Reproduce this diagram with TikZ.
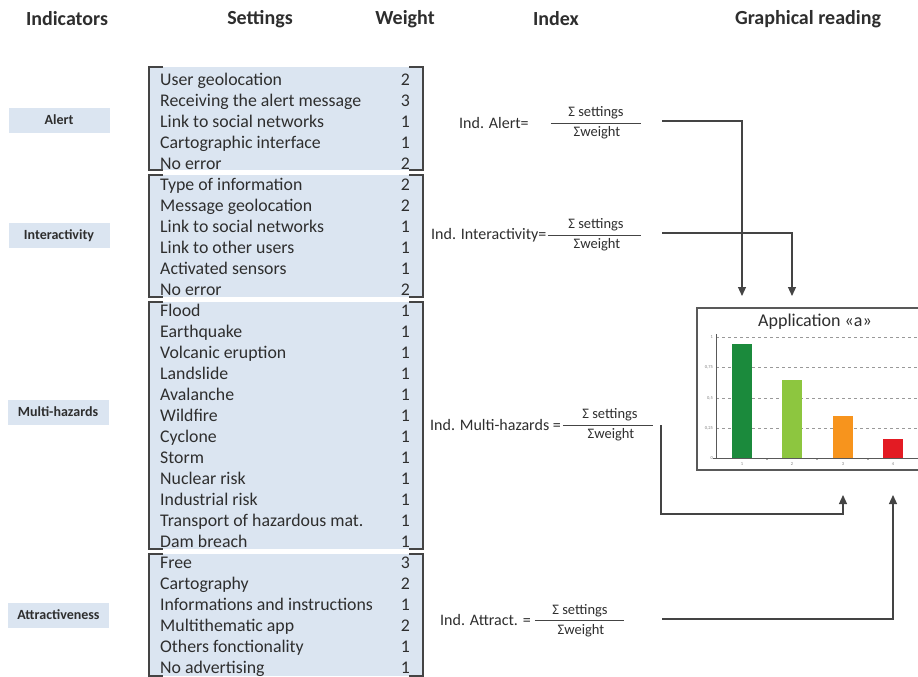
\documentclass[tikz,border=0pt]{standalone}
\usepackage{fontspec}
\setmainfont{Carlito}
\usetikzlibrary{arrows.meta}
\definecolor{boxblue}{HTML}{DBE5F1}
\definecolor{txt}{HTML}{2E2E2E}
\definecolor{lnc}{HTML}{444444}
\definecolor{barA}{HTML}{1B8A3C}
\definecolor{barB}{HTML}{8DC63F}
\definecolor{barC}{HTML}{F7941D}
\definecolor{barD}{HTML}{E31B23}
\tikzset{
  hdr/.style={font=\fontsize{20}{22}\selectfont\bfseries, text=txt, inner sep=0},
  indbox/.style={fill=boxblue, minimum width=101pt, minimum height=25pt, inner sep=0,
    font=\fontsize{14}{16}\selectfont\bfseries, text=txt},
  setting/.style={anchor=base west, inner sep=0, font=\fontsize{17.8}{19}\selectfont, text=txt},
  weight/.style={anchor=base east, inner sep=0, font=\fontsize{17.8}{19}\selectfont, text=txt},
  idx/.style={inner sep=0, font=\fontsize{16}{18}\selectfont, text=txt},
  fr/.style={inner sep=0, font=\fontsize{14.5}{16}\selectfont, text=txt},
  fracbar/.style={inner sep=0, minimum height=0pt},
  bracket/.style={draw=lnc, line width=1.4pt},
  conn/.style={draw=lnc, line width=1.2pt},
  arr/.style={conn, -{Triangle[width=8pt,length=9pt]}},
  grid/.style={draw=gray!80, line width=1pt, dash pattern=on 3pt off 3pt},
  tick/.style={inner sep=0, font=\fontsize{4.5}{5}\selectfont, text=gray},
}
\begin{document}
\begin{tikzpicture}[x=1pt,y=-1pt]
\useasboundingbox[fill=white] (0,0) rectangle (918,677);

% headers
\node[hdr] (hInd) at (67,19) {Indicators};
\node[hdr] (hSet) at (260,19) {Settings};
\node[hdr] (hWei) at (405,19) {Weight};
\node[hdr] (hIdx) at (556,19) {Index};
\node[hdr] (hGra) at (808,19) {Graphical reading};

% indicator boxes
\node[indbox] (bAlert) at (59,120) {Alert};
\node[indbox] (bInter) at (59,235.5) {Interactivity};
\node[indbox] (bMulti) at (58,412) {Multi-hazards};
\node[indbox] (bAttr) at (58.5,615) {Attractiveness};

% setting groups
\foreach \t/\b in {67/170, 175/297, 302/549, 554/676}{
  \fill[boxblue] (149,\t) rectangle (423,\b);
  \draw[bracket] (163,\t) -- (149,\t) -- (149,\b) -- (163,\b);
  \draw[bracket] (409,\t) -- (423,\t) -- (423,\b) -- (409,\b);
}

\foreach \i/\s/\w in {
  0/User geolocation/2, 1/Receiving the alert message/3, 2/Link to social networks/1,
  3/Cartographic interface/1, 4/No error/2,
  5/Type of information/2, 6/Message geolocation/2, 7/Link to social networks/1,
  8/Link to other users/1, 9/Activated sensors/1, 10/No error/2,
  11/Flood/1, 12/Earthquake/1, 13/Volcanic eruption/1, 14/Landslide/1, 15/Avalanche/1,
  16/Wildfire/1, 17/Cyclone/1, 18/Storm/1, 19/Nuclear risk/1, 20/Industrial risk/1,
  21/Transport of hazardous mat./1, 22/Dam breach/1,
  23/Free/3, 24/Cartography/2, 25/Informations and instructions/1,
  26/Multithematic app/2, 27/Others fonctionality/1, 28/No advertising/1}{
  \node[setting] (s\i) at (160,{85+21*\i}) {\s};
  \node[weight] (w\i) at (410,{85+21*\i}) {\w};
}

% index formulas
\node[idx, anchor=base west] (iA) at (459,128) {Ind. Alert=};
\node[fracbar, minimum width=90pt] (fA) at (596,123) {};
\node[fr] (nA) at (596,113) {Σ settings};
\node[fr] (dA) at (597,133) {Σweight};
\draw[conn, line width=1pt] (fA.west) -- (fA.east);

\node[idx, anchor=base west] (iI) at (431,239) {Ind. Interactivity=};
\node[fracbar, minimum width=93pt] (fI) at (594.5,235) {};
\node[fr] (nI) at (596,225) {Σ settings};
\node[fr] (dI) at (597,245) {Σweight};
\draw[conn, line width=1pt] (fI.west) -- (fI.east);

\node[idx, anchor=base west] (iM) at (430,430) {Ind. Multi-hazards =};
\node[fracbar, minimum width=90pt] (fM) at (608,425) {};
\node[fr] (nM) at (610,415) {Σ settings};
\node[fr] (dM) at (611,435) {Σweight};
\draw[conn, line width=1pt] (fM.west) -- (fM.east);

\node[idx, anchor=base west] (iT) at (440,625) {Ind. Attract. =};
\node[fracbar, minimum width=89pt] (fT) at (579.5,620) {};
\node[fr] (nT) at (580,611) {Σ settings};
\node[fr] (dT) at (581,631) {Σweight};
\draw[conn, line width=1pt] (fT.west) -- (fT.east);

% chart
\coordinate (chartTL) at (697,308);
\fill[white] (697,308) rectangle (918,470);
\draw[draw=gray!70!black, line width=2pt] (918,308) -- (chartTL) -- (697,470) -- (918,470);
\node[inner sep=0, font=\fontsize{18}{20}\selectfont, text=txt] (title) at (815,322) {Application «a»};
\foreach \y/\l in {337/1, 367.5/0{,}75, 398/0{,}5, 428/0{,}25}{
  \draw[grid] (716,\y) -- (918,\y);
  \node[tick, anchor=east] at (713,\y) {\l};
}
\node[tick, anchor=east] at (713,458) {0};
\draw[draw=gray!70!black, line width=0.8pt] (716,334) -- (716,458);
\draw[draw=gray!70!black, line width=0.8pt] (713,458) -- (918,458);
\fill[barA] (732,344) rectangle (752,458);
\fill[barB] (782,380) rectangle (802,458);
\fill[barC] (833,416) rectangle (853,458);
\fill[barD] (883,439) rectangle (903,458);
\foreach \x/\l in {742/1, 792/2, 843/3, 893/4}{
  \node[tick] at (\x,464) {\l};
}
\foreach \x in {767,817,868}{
  \fill[gray!70!black] (\x,459) circle (0.8pt);
}

% connectors
\coordinate (sA) at (662,121);
\coordinate (tA) at (742,296);
\coordinate (sI) at (662,233);
\coordinate (tI) at (792,296);
\coordinate (sM) at (661,425);
\coordinate (cM) at (843,514);
\coordinate (tM) at (843,495);
\coordinate (sT) at (662,619);
\coordinate (tT) at (893,495);
\draw[arr] (sA) -| (tA);
\draw[arr] (sI) -| (tI);
\draw[arr] (sM) |- (cM) -- (tM);
\draw[arr] (sT) -| (tT);
\end{tikzpicture}
\end{document}
